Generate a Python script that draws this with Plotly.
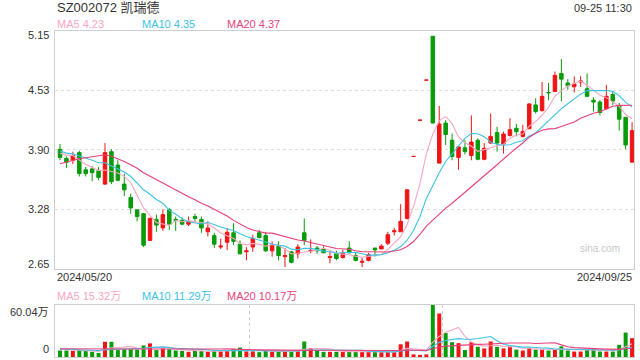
import plotly.graph_objects as go
import pandas as pd

W, H = 640, 360

# ---------------- data ----------------
first_date = "2024/05/20"
last_date = "2024/09/25"
stamp = "09-25 11:30"
title = "SZ002072 凯瑞德"

opens = [3.905, 3.81, 3.79, 3.87, 3.69, 3.70, 3.68, 3.54, 3.88, 3.74,
         3.54, 3.40, 3.27, 3.23, 2.95, 3.17, 3.08, 3.27, 3.17, 3.16,
         3.12, 3.20, 3.17, 3.04, 3.00, 2.88, 2.93, 3.03, 2.91, 2.83,
         2.88, 3.03, 3.00, 2.84, 2.89, 2.78, 2.83, 2.81, 3.03, 2.84,
         2.87, 2.86, 2.77, 2.81, 2.77, 2.87, 2.79, 2.72, 2.74, 2.87,
         2.86, 2.92, 3.04, 3.04, 3.18, 3.83, 4.21, 4.63, 5.09, 3.76,
         4.18, 4.00, 3.82, 3.92, 3.84, 4.00, 3.80, 3.97, 4.08, 3.96,
         4.05, 4.125, 4.04, 4.12, 4.37, 4.31, 4.50, 4.51, 4.70, 4.60,
         4.56, 4.61, 4.54, 4.42, 4.40, 4.33, 4.48, 4.36, 4.24, 3.77]
highs = [3.96, 3.83, 3.88, 3.89, 3.72, 3.73, 3.72, 3.97, 3.905, 3.79,
         3.65, 3.44, 3.275, 3.235, 3.19, 3.22, 3.275, 3.29, 3.20, 3.19,
         3.20, 3.23, 3.20, 3.15, 3.03, 2.97, 3.08, 3.13, 2.95, 2.88,
         3.01, 3.06, 3.04, 2.94, 2.94, 2.87, 2.84, 2.91, 3.18, 2.96,
         2.89, 2.89, 2.83, 2.84, 2.85, 2.94, 2.82, 2.77, 2.82, 2.87,
         2.91, 3.04, 3.08, 3.33, 3.485, 3.83, 4.21, 4.63, 5.09, 4.36,
         4.21, 4.07, 3.93, 4.00, 4.26, 4.02, 3.97, 4.28, 4.14, 4.09,
         4.23, 4.17, 4.16, 4.39, 4.44, 4.61, 4.60, 4.72, 4.85, 4.64,
         4.67, 4.67, 4.70, 4.45, 4.42, 4.58, 4.51, 4.39, 4.24, 4.19]
lows = [3.79, 3.71, 3.75, 3.62, 3.62, 3.57, 3.58, 3.53, 3.54, 3.57,
        3.415, 3.23, 3.15, 2.88, 2.945, 3.04, 3.05, 3.06, 3.05, 3.11,
        3.10, 3.15, 3.03, 2.99, 2.87, 2.86, 2.85, 2.90, 2.80, 2.74,
        2.83, 2.97, 2.83, 2.78, 2.74, 2.67, 2.71, 2.76, 2.90, 2.815,
        2.81, 2.815, 2.71, 2.74, 2.76, 2.815, 2.73, 2.67, 2.73, 2.78,
        2.86, 2.90, 3.00, 3.04, 3.17, 3.83, 4.21, 4.63, 4.18, 3.76,
        3.95, 3.79, 3.69, 3.85, 3.79, 3.79, 3.79, 3.96, 3.88, 3.86,
        4.04, 4.04, 4.03, 4.12, 4.28, 4.30, 4.42, 4.51, 4.41, 4.53,
        4.50, 4.56, 4.45, 4.30, 4.26, 4.32, 4.37, 4.10, 3.905, 3.77]
closes = [3.82, 3.77, 3.84, 3.65, 3.65, 3.66, 3.61, 3.87, 3.565, 3.58,
          3.48, 3.29, 3.20, 2.90, 3.18, 3.11, 3.22, 3.12, 3.16, 3.12,
          3.15, 3.18, 3.08, 3.08, 2.91, 2.89, 3.035, 2.94, 2.81, 2.84,
          2.97, 2.98, 2.84, 2.90, 2.79, 2.79, 2.72, 2.88, 2.95, 2.845,
          2.84, 2.82, 2.78, 2.76, 2.815, 2.82, 2.74, 2.73, 2.80, 2.85,
          2.89, 3.01, 3.05, 3.15, 3.48, 3.83, 4.21, 4.63, 4.18, 4.17,
          4.06, 3.83, 3.93, 3.88, 3.98, 3.80, 3.915, 4.04, 3.97, 4.065,
          4.11, 4.09, 4.09, 4.38, 4.30, 4.46, 4.497, 4.68, 4.64, 4.57,
          4.59, 4.62, 4.46, 4.40, 4.29, 4.46, 4.41, 4.22, 3.95, 4.10]
# volume in 万 (10k)
volumes = [7.5, 7.5, 7.0, 8.0, 7.0, 6.0, 4.6, 17.6, 17.6, 8.0,
           8.9, 8.9, 8.5, 13.3, 15.7, 8.0, 9.9, 8.9, 7.5, 7.0,
           6.0, 7.0, 7.0, 6.0, 7.5, 6.5, 7.0, 9.2, 10.9, 6.5,
           6.5, 5.6, 7.0, 6.0, 7.0, 7.0, 6.0, 7.0, 17.9, 10.1,
           8.0, 6.0, 6.0, 6.0, 6.0, 6.0, 6.0, 6.0, 6.0, 6.0,
           5.6, 6.0, 6.0, 14.7, 17.9, 3.0, 2.5, 3.0, 60.04, 50.2,
           27.7, 17.1, 16.0, 8.0, 17.1, 11.8, 9.9, 17.9, 11.8, 9.9,
           11.4, 8.5, 7.5, 10.4, 8.5, 8.5, 7.5, 8.5, 12.3, 7.5,
           6.3, 6.3, 8.3, 9.3, 6.3, 6.3, 6.3, 14.1, 28.2, 21.7]
# estimated closes / volumes of the days before the window (for the MA lines)
pre_closes = [3.38, 3.40, 3.42, 3.44, 3.47, 3.50, 3.54, 3.90, 4.05, 4.10,
              3.98, 3.92, 3.86, 3.90, 3.87, 3.88, 3.86, 3.90, 3.87]
pre_volumes = [9, 10, 11, 9, 8, 10, 12, 11, 9, 8,
               10, 9, 11, 10, 9, 8, 9, 10, 9]

price_ticks = [5.15, 4.525, 3.90, 3.275, 2.65]
price_tick_text = ["5.15", "4.53", "3.90", "3.28", "2.65"]
vol_max = 60.04
vol_tick_text = ["60.04万", "0"]
ma_labels = ["MA5 4.23", "MA10 4.35", "MA20 4.37"]
vol_ma_labels = ["MA5 15.32万", "MA10 11.29万", "MA20 10.17万"]

# ---------------- styles ----------------
RED = "#f01414"
GREEN = "#0a9b0a"
MA_COLORS = ["#f9a6c0", "#3cc3e3", "#ea3f78"]
FONT = "Arial, 'Liberation Sans', 'Noto Sans CJK SC', sans-serif"
TXT = "#333333"

n = len(closes)
idx = list(range(n))


def ma(series, k, pre):
    full = list(pre) + list(series)
    r = pd.Series(full).rolling(k).mean().tolist()
    return r[len(pre):]


# colour per day (same rule as candles)
colors = []
prev = pre_closes[-1]
for o, c in zip(opens, closes):
    up = c > o or (c == o and c > prev)
    colors.append(RED if up else GREEN)
    prev = c

fig = go.Figure()

fig.add_trace(go.Candlestick(
    x=idx, open=opens, high=highs, low=lows, close=closes,
    increasing=dict(line=dict(color=RED, width=1), fillcolor=RED),
    decreasing=dict(line=dict(color=GREEN, width=1), fillcolor=GREEN),
    whiskerwidth=0, xaxis="x", yaxis="y", showlegend=False, hoverinfo="skip"))

for k, col in zip([5, 10, 20], MA_COLORS):
    fig.add_trace(go.Scatter(x=idx, y=ma(closes, k, pre_closes), mode="lines",
                             line=dict(color=col, width=1.1), xaxis="x", yaxis="y",
                             showlegend=False, hoverinfo="skip"))

fig.add_trace(go.Bar(x=idx, y=volumes, marker=dict(color=colors, line=dict(width=0)),
                     width=0.62, xaxis="x2", yaxis="y2", showlegend=False, hoverinfo="skip"))

for k, col in zip([5, 10, 20], MA_COLORS):
    fig.add_trace(go.Scatter(x=idx, y=ma(volumes, k, pre_volumes), mode="lines",
                             line=dict(color=col, width=1.1), xaxis="x2", yaxis="y2",
                             showlegend=False, hoverinfo="skip"))

L, R = 55, 634
P_TOP, P_BOT = 30.5, 269
V_TOP, V_BOT = 305, 357
xr = [-0.78, n - 1 + 0.3]
BORDER = "#cfcfcf"

fig.update_layout(
    width=W, height=H, margin=dict(l=0, r=0, t=0, b=0),
    paper_bgcolor="white", plot_bgcolor="white",
    boxgap=0.22,
    font=dict(family=FONT, size=11, color=TXT),
    xaxis=dict(domain=[L / W, R / W], range=xr, anchor="y", showgrid=False,
               showticklabels=False, zeroline=False, showline=True, mirror=True,
               linecolor=BORDER, linewidth=1, rangeslider=dict(visible=False), fixedrange=True),
    yaxis=dict(domain=[1 - P_BOT / H, 1 - P_TOP / H], range=[price_ticks[-1], price_ticks[0]],
               anchor="x", tickvals=price_ticks[1:-1], showticklabels=False, showgrid=True,
               gridcolor="#dddddd", griddash="dot", gridwidth=1, zeroline=False,
               showline=True, mirror=True, linecolor=BORDER, linewidth=1),
    xaxis2=dict(domain=[L / W, R / W], range=xr, anchor="y2", tickvals=[29.5, 59.5],
                showgrid=True, gridcolor="#cccccc", griddash="dot", showticklabels=False,
                zeroline=False, showline=True, mirror=True, linecolor=BORDER, linewidth=1),
    yaxis2=dict(domain=[1 - V_BOT / H, 1 - V_TOP / H], range=[0, vol_max], anchor="x2",
                showgrid=False, showticklabels=False, zeroline=False, showline=True,
                mirror=True, linecolor=BORDER, linewidth=1),
)

ann = []


def txt(x, y, s, anchor="left", size=11, color=TXT):
    ann.append(dict(x=x / W, y=1 - y / H, xref="paper", yref="paper", text=s,
                    showarrow=False, xanchor=anchor, yanchor="middle",
                    font=dict(size=size, color=color, family=FONT)))


txt(55, 7.5, title, size=13)
txt(634, 7.5, stamp, anchor="right")
for xp, s, c in zip([55, 140, 225], ma_labels, MA_COLORS):
    txt(xp, 24.5, s, color=c)
for xp, s, c in zip([55, 140, 225], vol_ma_labels, MA_COLORS):
    txt(xp, 296, s, color=c)
txt(55, 277, first_date)
txt(634, 277, last_date, anchor="right")
txt(600, 248, "sina.com", anchor="center", size=10, color="#c8c8c8")

# price tick labels through the y axis
shifts = [-4, 0, 0, 0, 5.5]
for v, s, sh in zip(price_ticks, price_tick_text, shifts):
    ann.append(dict(x=51 / W, xref="paper", y=v, yref="y", text=s, showarrow=False,
                    xanchor="right", yanchor="middle", yshift=sh,
                    font=dict(size=11, color=TXT, family=FONT)))
for v, s, sh in zip([vol_max, 0], vol_tick_text, [-7, 8]):
    ann.append(dict(x=51 / W, xref="paper", y=v, yref="y2", text=s, showarrow=False,
                    xanchor="right", yanchor="middle", yshift=sh,
                    font=dict(size=11, color=TXT, family=FONT)))

fig.update_layout(annotations=ann)
fig.write_html("out.html")
